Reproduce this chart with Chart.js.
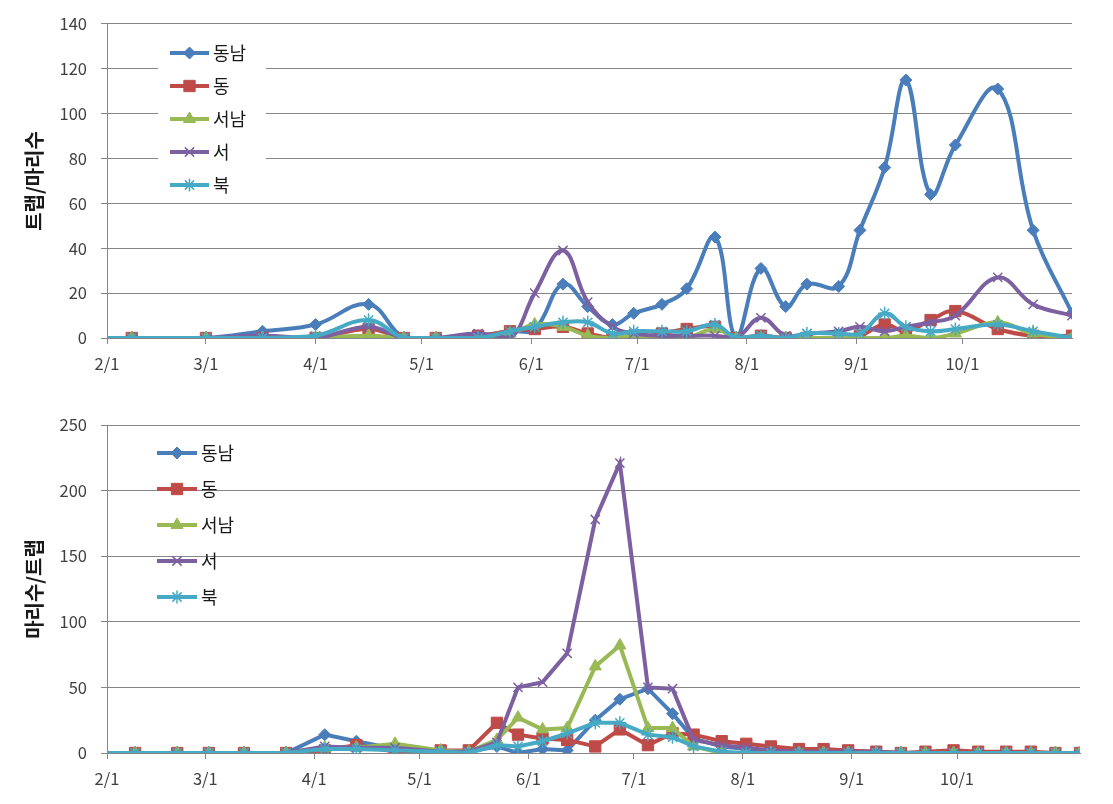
<!DOCTYPE html>
<html>
<head>
<meta charset="utf-8">
<script src="https://cdn.jsdelivr.net/npm/chart.js@4.4.1/dist/chart.umd.min.js"></script>
<style>
    body { margin: 0; background: #fff; }
    .box { position: absolute; left: 0; width: 1113px; }
</style>
</head>
<body>
<div class="box" style="top:0;height:400px"><canvas id="topChart" width="1113" height="400"></canvas></div>
<div class="box" style="top:400px;height:404px"><canvas id="bottomChart" width="1113" height="404"></canvas></div>
<script>
// x values are days counted from 2/1
var tickDays = [0, 28, 59, 89, 120, 150, 181, 212, 242];
var tickLabels = ['2/1', '3/1', '4/1', '5/1', '6/1', '7/1', '8/1', '9/1', '10/1'];
var seriesNames = ['동남', '동', '서남', '서', '북'];

// upper chart: 트랩/마리수
var topDays     = [0, 7, 28, 44, 59, 74, 84, 93, 105, 114, 121, 129, 136, 143, 149, 157, 164, 172, 178, 185, 192, 198, 207, 213, 220, 226, 233, 240, 252, 262, 273];
var topDongnam  = [0, 0, 0, 3, 6, 15, 0, 0, 1, 3, 4, 24, 14, 6, 11, 15, 22, 45, 0, 31, 14, 24, 23, 48, 76, 115, 64, 86, 111, 48, 11];
var topDong     = [0, 0, 0, 0, 0, 4, 0, 0, 1, 3, 4, 5, 2, 0, 0, 2, 4, 5, 0, 1, 0, 0, 0, 1, 6, 3, 8, 12, 4, 1, 1];
var topSeonam   = [0, 0, 0, 0, 0, 1, 0, 0, 0, 2, 6, 5, 1, 0, 1, 0, 0, 4, 0, 0, 0, 0, 0, 0, 0, 1, 0, 2, 7, 2, 0];
var topSeo      = [0, 0, 0, 1, 0, 5, 0, 0, 2, 0, 20, 39, 16, 5, 2, 1, 1, 1, 0, 9, 1, 2, 3, 5, 3, 5, 7, 10, 27, 15, 10];
var topBuk      = [0, 0, 0, 0, 1, 8, 0, 0, 0, 3, 5, 7, 7, 2, 3, 3, 3, 6, 0, 1, 0, 2, 2, 2, 11, 5, 3, 4, 6, 3, 0];

// lower chart: 마리수/트랩
var botDays     = [0, 8, 20, 29, 39, 51, 62, 71, 82, 95, 103, 111, 117, 124, 131, 139, 146, 154, 161, 167, 175, 182, 189, 197, 204, 211, 219, 226, 233, 241, 248, 256, 263, 270, 277];
var botDongnam  = [0, 0, 0, 0, 0, 0, 14, 9, 3, 1, 1, 5, 0, 3, 2, 25, 41, 49, 30, 11, 5, 3, 2, 1, 1, 1, 1, 0, 0, 1, 0, 0, 0, 0, 0];
var botDong     = [0, 0, 0, 0, 0, 0, 2, 6, 1, 2, 2, 23, 14, 11, 10, 5, 18, 6, 15, 14, 9, 7, 5, 3, 3, 2, 1, 0, 1, 2, 1, 1, 1, 0, 0];
var botSeonam   = [0, 0, 0, 0, 0, 0, 4, 4, 7, 2, 1, 10, 27, 18, 19, 66, 82, 19, 19, 5, 0, 0, 0, 0, 0, 0, 0, 0, 0, 0, 0, 0, 0, 0, 0];
var botSeo      = [0, 0, 0, 0, 0, 0, 5, 4, 4, 1, 1, 8, 50, 54, 76, 178, 221, 50, 49, 10, 6, 4, 2, 1, 1, 1, 1, 0, 0, 0, 0, 0, 0, 0, 0];
var botBuk      = [0, 0, 0, 0, 0, 0, 3, 3, 2, 1, 0, 6, 5, 9, 15, 23, 23, 14, 12, 5, 1, 0, 0, 0, 0, 0, 0, 0, 0, 0, 0, 0, 0, 0, 0];

var colors = ['#4A7EBB', '#BE4B48', '#98B954', '#7D60A0', '#46AAC5'];
var styles = ['rectRot', 'rect', 'triangle', 'crossRot', 'star'];
var sizes = [6, 8, 7, 6.5, 6.5];
var FONT = "'Noto Sans CJK KR', 'Noto Sans', sans-serif";

function makeSets(days, lists, tension) {
    return lists.map(function (vals, i) {
        return {
            label: seriesNames[i],
            data: vals.map(function (v, j) { return { x: days[j], y: v }; }),
            borderColor: colors[i],
            backgroundColor: colors[i],
            pointBackgroundColor: colors[i],
            pointBorderColor: colors[i],
            pointBorderWidth: (styles[i] === 'crossRot' || styles[i] === 'star') ? 1.5 : 1,
            borderWidth: 4,
            pointStyle: styles[i],
            markerSize: sizes[i],
            pointRadius: function (c) { return c.dataIndex === 0 ? 0 : sizes[i]; },
            tension: tension,
            order: 5 - i
        };
    });
}

// legend drawn inside the plot, like the original
var insideLegend = {
    id: 'insideLegend',
    afterDraw: function (chart, args, opts) {
        var ctx = chart.ctx;
        ctx.save();
        if (opts.background) {
            ctx.fillStyle = opts.background;
            ctx.fillRect(opts.box[0], opts.box[1], opts.box[2], opts.box[3]);
        }
        chart.data.datasets.forEach(function (ds, i) {
            var y = opts.y + i * opts.spacing;
            ctx.strokeStyle = ds.borderColor;
            ctx.lineWidth = ds.borderWidth;
            ctx.beginPath();
            ctx.moveTo(opts.x, y);
            ctx.lineTo(opts.x + opts.lineLength, y);
            ctx.stroke();
            ctx.fillStyle = ds.pointBackgroundColor;
            ctx.strokeStyle = ds.pointBorderColor;
            ctx.lineWidth = ds.pointBorderWidth;
            Chart.helpers.drawPoint(ctx, {
                pointStyle: ds.pointStyle, radius: ds.markerSize, rotation: 0, borderWidth: ds.pointBorderWidth
            }, opts.x + opts.lineLength / 2, y);
            ctx.fillStyle = '#1a1a1a';
            ctx.font = '18px ' + FONT;
            ctx.textBaseline = 'middle';
            ctx.textAlign = 'left';
            ctx.fillText(ds.label, opts.x + opts.lineLength + 4, y);
        });
        ctx.restore();
    }
};

function makeOptions(maxX, maxY, step, title, pad, xHeight, legend) {
    return {
        responsive: false,
        animation: false,
        events: [],
        layout: { padding: pad },
        plugins: {
            legend: { display: false },
            tooltip: { enabled: false },
            insideLegend: legend
        },
        scales: {
            x: {
                type: 'linear',
                min: 0,
                max: maxX,
                afterBuildTicks: function (scale) {
                    scale.ticks = tickDays.map(function (d) { return { value: d }; });
                },
                afterFit: function (scale) { scale.height = xHeight; },
                ticks: {
                    autoSkip: false,
                    maxRotation: 0,
                    padding: 10,
                    color: '#404040',
                    font: { family: FONT, size: 16.5 },
                    callback: function (v) { return tickLabels[tickDays.indexOf(v)]; }
                },
                grid: { drawOnChartArea: false, drawTicks: true, tickLength: 6, color: '#868686' },
                border: { color: '#868686', width: 1 }
            },
            y: {
                min: 0,
                max: maxY,
                afterFit: function (scale) { scale.width = 107; },
                ticks: {
                    stepSize: step,
                    padding: 14,
                    color: '#404040',
                    font: { family: FONT, size: 16.5 }
                },
                title: {
                    display: true,
                    text: title,
                    color: '#1a1a1a',
                    font: { family: FONT, size: 20, weight: 'bold' },
                    padding: { top: 22, bottom: 0 }
                },
                grid: { color: '#868686', lineWidth: 1, tickLength: 6 },
                border: { color: '#868686', width: 1 }
            }
        }
    };
}

document.addEventListener('DOMContentLoaded', function () {
    // upper chart (smoothed lines)
    var topCtx = document.getElementById('topChart').getContext('2d');
    var topChart = new Chart(topCtx, {
        type: 'line',
        data: { datasets: makeSets(topDays, [topDongnam, topDong, topSeonam, topSeo, topBuk], 0.4) },
        options: makeOptions(273, 140, 20, '트랩/마리수',
            { top: 19, right: 41, bottom: 0, left: 0 }, 62,
            { x: 170, y: 53, spacing: 33, lineLength: 39, background: '#ffffff', box: [158, 36, 108, 162] }),
        plugins: [insideLegend]
    });

    // lower chart (straight lines)
    var botCtx = document.getElementById('bottomChart').getContext('2d');
    var botChart = new Chart(botCtx, {
        type: 'line',
        data: { datasets: makeSets(botDays, [botDongnam, botDong, botSeonam, botSeo, botBuk], 0) },
        options: makeOptions(277, 250, 50, '마리수/트랩',
            { top: 25, right: 33, bottom: 0, left: 0 }, 51,
            { x: 157, y: 53, spacing: 36, lineLength: 40, background: null }),
        plugins: [insideLegend]
    });
});
</script>
</body>
</html>
